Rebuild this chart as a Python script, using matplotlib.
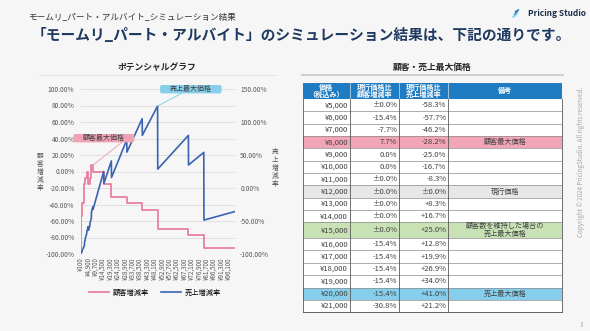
import matplotlib.pyplot as plt
from matplotlib.patches import Rectangle, FancyBboxPatch
from matplotlib.lines import Line2D

plt.rcParams['font.family'] = ['Noto Sans CJK JP', 'DejaVu Sans']

W, H = 590, 331

# customer rate (%): value holds for prices above the previous break up to this one
step_prices = [100, 500, 1000, 2500, 3000, 4000, 5000, 6000, 7000, 8000,
               15000, 20000, 30000, 40000, 50000, 70000, 80000, 100000]
customer_rate = [-100.0, -61.5, -53.8, -38.5, -15.4, -7.7, 0.0, -15.4, -7.7, 7.7,
                 0.0, -15.4, -30.8, -38.5, -46.2, -69.2, -76.9, -92.3]

# sales rate (%) line vertices
sales_prices = [100, 200, 500, 600, 1000, 1100, 2500, 2600, 3000, 3100,
                4000, 4100, 5000, 5100, 6000, 6100, 7000, 7100, 8000, 8100,
                15000, 15100, 20000, 20100, 30000, 30100, 40000, 40100, 50000, 50100,
                70000, 70100, 80000, 80100, 100000]
sales_rate = [-100.0, -99.4, -98.4, -97.7, -96.2, -94.4, -87.2, -81.7, -78.8, -76.2,
              -69.2, -65.8, -58.3, -64.0, -57.7, -53.1, -46.2, -36.3, -28.2, -32.5,
              25.0, 6.5, 41.0, 15.9, 73.0, 54.3, 105.0, 79.8, 124.2, 28.6,
              79.7, 34.9, 54.0, -48.6, -35.8]

x_tick_labels = ['¥100', '¥4,900', '¥9,700', '¥14,500', '¥19,300', '¥24,100', '¥28,900',
                 '¥33,700', '¥38,500', '¥43,300', '¥48,100', '¥52,900', '¥57,700',
                 '¥62,500', '¥67,300', '¥72,100', '¥76,900', '¥81,700', '¥86,500',
                 '¥91,300', '¥96,100']
left_ticks = [-100, -80, -60, -40, -20, 0, 20, 40, 60, 80, 100]
right_ticks = [-100, -50, 0, 50, 100, 150]

# table
table_header = ['価格\n（税込み）', '現行価格比\n顧客増減率', '現行価格比\n売上増減率', '備考']
table_price = ['¥5,000', '¥6,000', '¥7,000', '¥8,000', '¥9,000', '¥10,000', '¥11,000',
               '¥12,000', '¥13,000', '¥14,000', '¥15,000', '¥16,000', '¥17,000',
               '¥18,000', '¥19,000', '¥20,000', '¥21,000']
table_cust = ['±0.0%', '-15.4%', '-7.7%', '7.7%', '0.0%', '0.0%', '±0.0%', '±0.0%', '±0.0%',
              '±0.0%', '±0.0%', '-15.4%', '-15.4%', '-15.4%', '-15.4%', '-15.4%', '-30.8%']
table_sales = ['-58.3%', '-57.7%', '-46.2%', '-28.2%', '-25.0%', '-16.7%', '-8.3%', '±0.0%',
               '+8.3%', '+16.7%', '+25.0%', '+12.8%', '+19.9%', '+26.9%', '+34.0%',
               '+41.0%', '+21.2%']
table_note = ['', '', '', '顧客最大価格', '', '', '', '現行価格', '', '',
              '顧客数を維持した場合の\n売上最大価格', '', '', '', '', '売上最大価格', '']
row_colors = {3: '#F2A5B6', 7: '#E7E7E7', 10: '#C8E2B6', 15: '#86CFEC'}

PINK = '#E9769B'
BLUE = '#3A64B0'
BG = '#F6F6F6'

fig = plt.figure(figsize=(W / 100, H / 100), dpi=100, facecolor=BG)

# ---- chart ----
x0, x1, ytop, ybot = 80.7, 234.6, 89.0, 254.0
ax = fig.add_axes([x0 / W, (H - ybot) / H, (x1 - x0) / W, (ybot - ytop) / H])
ax2 = ax.twinx()
for a in (ax, ax2):
    a.set_facecolor('none')
    for s in a.spines.values():
        s.set_visible(False)

ax.plot(step_prices, customer_rate, color=PINK, lw=1.2, drawstyle='steps-pre')
ax2.plot(sales_prices, sales_rate, color=BLUE, lw=1.2)

ax.set_xlim(100, 100000)
ax.set_ylim(-100, 100)
ax2.set_ylim(-100, 150)

x_ticks = [int(t.replace('¥', '').replace(',', '')) for t in x_tick_labels]
ax.set_xticks(x_ticks)
ax.set_xticklabels(x_tick_labels, rotation=90, fontsize=4.5, color='#595959')
ax.set_yticks(left_ticks)
ax.set_yticklabels([f'{v:.2f}%' for v in left_ticks], fontsize=4.8, color='#595959')
ax2.set_yticks(right_ticks)
ax2.set_yticklabels([f'{v:.2f}%' for v in right_ticks], fontsize=4.8, color='#595959')
ax.tick_params(axis='both', length=0, pad=4.5)
ax2.tick_params(axis='y', length=0, pad=4)
ax.tick_params(axis='x', pad=2.5)
ax.yaxis.grid(True, color='#DCDCDC', lw=0.6)
ax.set_axisbelow(True)

fig.text(40 / W, 1 - 172 / H, '\n'.join('顧客増減率'), fontsize=4.8, color='#595959',
         ha='center', va='center', linespacing=1.0)
fig.text(275 / W, 1 - 168 / H, '\n'.join('売上増減率'), fontsize=4.8, color='#595959',
         ha='center', va='center', linespacing=1.0)

fig.legend(handles=[Line2D([], [], color=PINK, lw=1.2), Line2D([], [], color=BLUE, lw=1.2)],
           labels=['顧客増減率', '売上増減率'], loc='center',
           bbox_to_anchor=(155 / W, 1 - 293 / H), ncol=2, frameon=False, fontsize=5.2,
           handlelength=2.8, columnspacing=1.6, handletextpad=0.5)

# overlay in pixel coordinates
ov = fig.add_axes([0, 0, 1, 1], zorder=5)
ov.set_xlim(0, W)
ov.set_ylim(H, 0)
ov.axis('off')
ov.patch.set_visible(False)

# callouts
def callout(cx, cy, w, h, fc, label, start, target, axis):
    ov.add_patch(FancyBboxPatch((cx - w / 2, cy - h / 2), w, h,
                                boxstyle='round,pad=0,rounding_size=2', fc=fc, ec='none'))
    ov.text(cx, cy, label, fontsize=5.0, color='#404040', ha='center', va='center')
    ov.annotate('', xy=target, xycoords=axis.transData,
                xytext=start, textcoords=ov.transData,
                arrowprops=dict(arrowstyle='-', color=fc, lw=0.7, shrinkA=0, shrinkB=0))

callout(103.8, 138.2, 61, 8.4, '#F0A3B5', '顧客最大価格', (121.7, 142.4),
        (step_prices[9], customer_rate[9]), ax)
callout(190.8, 89.2, 61.5, 8.4, '#85CFEA', '売上最大価格', (181.5, 93.4),
        (sales_prices[28], sales_rate[28]), ax2)

# headers
fig.text(28 / W, 1 - 17 / H, 'モームリ_パート・アルバイト_シミュレーション結果',
         fontsize=6.2, color='#333333', va='center', ha='left')
fig.text(32 / W, 1 - 35.5 / H, '「モームリ_パート・アルバイト」のシミュレーション結果は、下記の通りです。',
         fontsize=10.6, color='#1F3A5F', fontweight='bold', va='center', ha='left')
fig.text(586 / W, 1 - 13 / H, 'Pricing Studio', fontsize=6, color='#1F2D4D',
         fontweight='bold', va='center', ha='right')
for i, c in enumerate(['#7FD0F0', '#3FA8E0', '#2B6CB8']):
    ov.plot([513 + i * 1.2, 516 + i * 1.2], [17 - i * 2.5, 15 - i * 2.5], color=c, lw=1.2,
            solid_capstyle='round')

ov.text(157, 67.5, 'ポテンシャルグラフ', fontsize=6.3, fontweight='bold', color='#262626',
        ha='center', va='center')
ov.plot([40, 275], [74.5, 74.5], color='#E3E3E3', lw=0.8)
ov.text(432, 67.5, '顧客・売上最大価格', fontsize=6.3, fontweight='bold', color='#262626',
        ha='center', va='center')
ov.plot([302, 563], [75, 75], color='#CFCFCF', lw=1.4)

# table
cols = [302.7, 350.0, 399.3, 448.3, 561.7]
top = 82.7
head_h = 16.3
ov.add_patch(Rectangle((cols[0], top), cols[-1] - cols[0], head_h, fc='#1F7CC2', ec='none'))
for j, txt in enumerate(table_header):
    ov.text((cols[j] + cols[j + 1]) / 2, top + head_h / 2, txt, fontsize=5.1,
            fontweight='bold', color='white', ha='center', va='center', linespacing=1.0)
    if j > 0:
        ov.plot([cols[j], cols[j]], [top, top + head_h], color='#D0E4F4', lw=0.5)

y = top + head_h
for i in range(len(table_price)):
    h = 15.6 if '\n' in table_note[i] else 12.35
    fc = row_colors.get(i, 'white')
    ov.add_patch(Rectangle((cols[0], y), cols[-1] - cols[0], h, fc=fc, ec='none'))
    ov.plot([cols[0], cols[-1]], [y + h, y + h], color='#8C8C8C', lw=0.5)
    cy = y + h / 2
    ov.text(cols[1] - 2, cy, table_price[i], fontsize=5.5, color='#404040', ha='right', va='center')
    ov.text(cols[2] - 2, cy, table_cust[i], fontsize=5.5, color='#404040', ha='right', va='center')
    ov.text(cols[3] - 2, cy, table_sales[i], fontsize=5.5, color='#404040', ha='right', va='center')
    if table_note[i]:
        ov.text((cols[3] + cols[4]) / 2, cy, table_note[i], fontsize=5.1, color='#404040',
                ha='center', va='center', linespacing=1.0)
    y += h

for cx in cols:
    ov.plot([cx, cx], [top + head_h, y], color='#595959', lw=0.6)
ov.plot([cols[0], cols[-1]], [y, y], color='#595959', lw=0.6)

fig.text(581 / W, 1 - 162 / H, 'Copyright © 2024 PricingStudio. All rights reserved.',
         rotation=90, fontsize=4.5, color='#A6A6A6', ha='center', va='center')
fig.text(581.5 / W, 1 - 325 / H, '3', fontsize=4.5, color='#A6A6A6', ha='center', va='center')

fig.savefig('out.png', dpi=100, facecolor=BG)
